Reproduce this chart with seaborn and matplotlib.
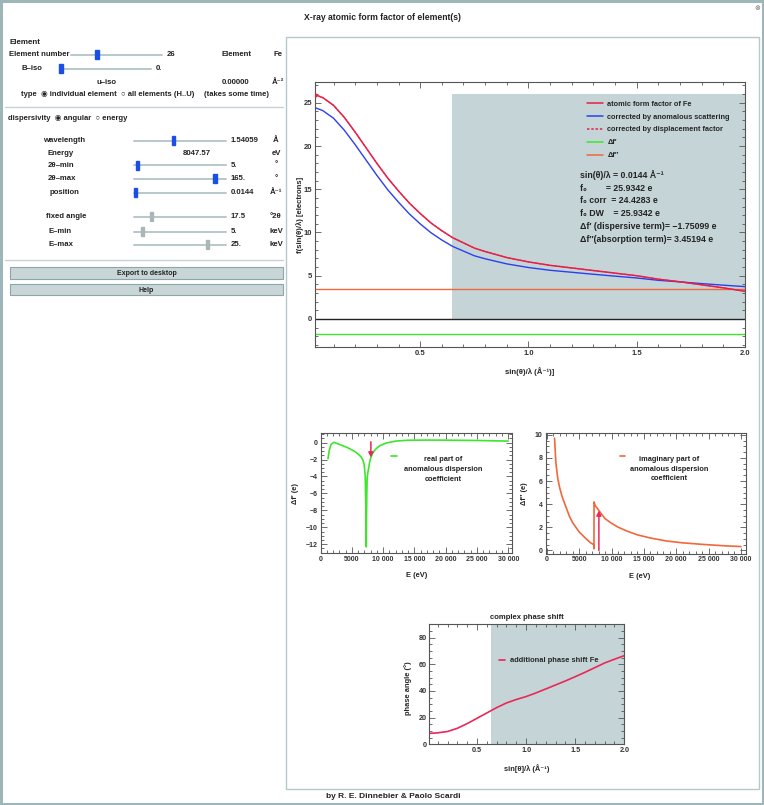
import matplotlib
matplotlib.use("Agg")
import matplotlib.pyplot as plt
from matplotlib.patches import Rectangle
from matplotlib.lines import Line2D
from matplotlib.ticker import MultipleLocator, FuncFormatter
import numpy as np
import pandas as pd
import seaborn as sns

# ---- values ----
# atomic form factor of Fe vs sin(theta)/lambda
s_ff = [0.0144, 0.05, 0.1, 0.15, 0.2, 0.25, 0.3, 0.35, 0.4, 0.45, 0.5, 0.55, 0.6, 0.65,
        0.7, 0.75, 0.8, 0.9, 1.0, 1.1, 1.2, 1.3, 1.4, 1.5, 1.6, 1.7, 1.8, 1.9, 2.0]
f0_fe = [25.93, 25.6, 24.7, 23.3, 21.6, 19.8, 18.0, 16.3, 14.8, 13.4, 12.2, 11.1, 10.2, 9.4,
         8.8, 8.2, 7.8, 7.1, 6.6, 6.2, 5.9, 5.6, 5.3, 5.0, 4.6, 4.3, 3.95, 3.6, 3.2]
f0_corr = [24.43, 24.10, 23.21, 21.82, 20.15, 18.38, 16.61, 14.95, 13.50, 12.15, 11.00, 9.97,
           9.13, 8.39, 7.85, 7.31, 6.96, 6.37, 5.95, 5.63, 5.40, 5.17, 4.95, 4.74, 4.47, 4.29,
           4.09, 3.91, 3.74]
f0_dw = [25.93, 25.6, 24.7, 23.3, 21.6, 19.8, 18.0, 16.3, 14.8, 13.4, 12.2, 11.1, 10.2, 9.4,
         8.8, 8.2, 7.8, 7.1, 6.6, 6.2, 5.9, 5.6, 5.3, 5.0, 4.6, 4.3, 3.95, 3.6, 3.2]
s_ends = [0.0144, 2.0]
df1_flat = [-1.751, -1.751]
df2_flat = [3.452, 3.452]
shade_from = 0.646

s_pos = 0.0144
f0_pos = 25.9342
energy = 8047.57
df1_pos = -1.75099
df2_pos = 3.45194

# real part of anomalous dispersion vs energy
E_real = [1200, 1400, 1700, 2100, 2300, 2800, 3500, 4200, 5000, 5600, 6000, 6500, 6800, 7000,
          7150, 7220, 7270, 7310, 7350, 7400, 7450, 7550, 7700, 7850, 8050, 8300, 8600, 9000,
          9500, 10500, 12000, 14000, 17000, 20000, 25000, 30000]
df1_E = [-1.9, -0.9, -0.2, 0.02, 0.0, -0.15, -0.35, -0.55, -0.85, -1.1, -1.35, -1.7, -2.1, -2.7,
         -4.0, -6.5, -9.5, -12.3, -9.0, -6.0, -4.3, -3.6, -3.0, -2.3, -1.75, -1.3, -0.95, -0.65,
         -0.35, -0.05, 0.18, 0.28, 0.3, 0.29, 0.25, 0.18]

# imaginary part of anomalous dispersion vs energy
E_imag = [1200, 1400, 1700, 2000, 2400, 3000, 3500, 4000, 5000, 6000, 6800, 7280, 7290, 7300,
          7500, 7800, 8047, 9000, 10000, 11000, 12500, 14000, 16000, 18500, 21000, 24000,
          27000, 30000]
df2_E = [9.7, 7.6, 6.2, 5.4, 4.6, 3.7, 2.95, 2.4, 1.6, 1.05, 0.65, 0.5, 0.15, 4.2,
         3.85, 3.65, 3.45, 2.75, 2.35, 2.02, 1.65, 1.35, 1.08, 0.82, 0.66, 0.53, 0.42, 0.34]

# complex phase shift
s_phase = [0.0144, 0.1, 0.2, 0.3, 0.4, 0.5, 0.6, 0.7, 0.8, 0.9, 1.0, 1.1, 1.2, 1.3, 1.4, 1.5,
           1.6, 1.7, 1.8, 1.9, 2.0]
phase_deg = [8.2, 8.6, 9.6, 12.0, 15.5, 19.5, 23.5, 27.5, 31.0, 33.6, 35.8, 38.5, 41.5, 44.5,
             47.5, 50.7, 54.0, 57.5, 61.0, 63.8, 66.5]

# ---- style ----
sns.set_theme(style="ticks")
plt.rcParams["font.family"] = ["Liberation Sans", "DejaVu Sans"]
plt.rcParams["font.weight"] = "bold"
plt.rcParams["axes.labelweight"] = "bold"
plt.rcParams["axes.unicode_minus"] = True

RED = "#e8203f"
BLUE = "#2a3ff0"
GREEN = "#3de62a"
ORANGE = "#f0683c"
CRIMSON = "#e8285a"
DASH = "#e0205a"
SHADE = "#c5d5d7"
FRAME = "#555555"
TXT = "#222222"

W, H = 764, 805


def rect(l, t, r, b):
    return [l / W, 1 - b / H, (r - l) / W, (b - t) / H]


def fx(x):
    return x / W


def fy(y):
    return 1 - y / H


fig = plt.figure(figsize=(W / 100, H / 100), dpi=100)


def txt(x, y, s, ha="left", size=5.6, color=TXT, **kw):
    fig.text(fx(x), fy(y), s, ha=ha, va="center", fontsize=size, fontweight="bold",
             color=color, **kw)


def hline(x0, x1, y, color="#c6d4d6", lw=1.0):
    fig.add_artist(Line2D([fx(x0), fx(x1)], [fy(y), fy(y)], transform=fig.transFigure,
                          color=color, lw=lw))


def slider(x0, x1, y, knob, color):
    hline(x0, x1, y, color="#b8c8ca", lw=1.4)
    fig.add_artist(Rectangle((fx(knob - 1.8), fy(y + 4.5)), 3.6 / W, 9 / H,
                             transform=fig.transFigure, color=color, zorder=5))


def frame_axes(ax, xmaj, xmin, ymaj, ymin, size=5.3):
    for sp in ax.spines.values():
        sp.set_visible(True)
        sp.set_color(FRAME)
        sp.set_linewidth(0.8)
    ax.xaxis.set_major_locator(MultipleLocator(xmaj))
    ax.xaxis.set_minor_locator(MultipleLocator(xmin))
    ax.yaxis.set_major_locator(MultipleLocator(ymaj))
    ax.yaxis.set_minor_locator(MultipleLocator(ymin))
    ax.tick_params(which="both", direction="in", top=True, right=True, color=FRAME,
                   width=0.6, labelsize=size, labelcolor="#333333", pad=2)
    ax.tick_params(which="major", length=4)
    ax.tick_params(which="minor", length=2)
    ax.set_facecolor("white")
    ax.grid(False)


# ---- window chrome ----
fig.add_artist(Rectangle((fx(1), fy(804)), 762 / W, 803 / H, transform=fig.transFigure,
                         fill=False, edgecolor="#9cb6ba", lw=2.2))
fig.add_artist(Rectangle((fx(286), fy(789)), 473 / W, 752 / H, transform=fig.transFigure,
                         fill=False, edgecolor="#b5c9cc", lw=1.0))
txt(382, 18, "X-ray atomic form factor of element(s)", ha="center", size=6.2)
txt(757, 8, "⊗", ha="center", size=5, color="#888888")
txt(326, 796, "by R. E. Dinnebier & Paolo Scardi", size=6.0)

# ---- left control panel ----
txt(9, 42.5, "Element", size=5.8)
txt(9, 55, "Element number", size=5.6)
slider(71, 162, 55, 96.7, "#1a4fe6")
txt(167, 55, "26")
txt(236, 55, "Element", ha="center")
txt(278, 55, "Fe", ha="center")
txt(21, 69, "B–iso")
slider(60, 151, 69, 61, "#1a4fe6")
txt(156, 69, "0.")
txt(106.7, 82.7, "u–iso", ha="center")
txt(236, 82.7, "0.00000", ha="center")
txt(278, 82, "Å⁻²", ha="center")
txt(21, 95, "type  ◉ individual element  ○ all elements (H..U)", size=5.5)
txt(236, 94.5, "(takes some time)", ha="center", size=5.5)
hline(5, 283, 106.7)
txt(8, 118, "dispersivity  ◉ angular  ○ energy", size=5.5)

rows = [
    (43.3, 140.7, "wavelength", "1.54059", "Å", 173.3, "#1a4fe6"),
    (47.7, 165.0, "2θ–min", "5.", "°", 137.7, "#1a4fe6"),
    (47.7, 178.5, "2θ–max", "165.", "°", 215.0, "#1a4fe6"),
    (49.3, 193.0, "position", "0.0144", "Å⁻¹", 135.7, "#1a4fe6"),
    (46.0, 217.0, "fixed angle", "17.5", "°2θ", 151.7, "#a9b7b9"),
    (48.3, 231.7, "E–min", "5.", "keV", 142.7, "#a9b7b9"),
    (48.3, 245.0, "E–max", "25.", "keV", 207.3, "#a9b7b9"),
]
for lx, y, lab, val, unit, knob, kc in rows:
    txt(lx, y, lab)
    slider(134, 226, y, knob, kc)
    txt(230.5, y, val)
    txt(276, y, unit, ha="center")
txt(47.7, 153.3, "Energy")
txt(196.7, 153.3, "8047.57", ha="center")
txt(276, 153.3, "eV", ha="center")
hline(5, 283, 259.5)

for top, bot, lab in [(267.5, 279.5, "Export to desktop"), (284.5, 295.5, "Help")]:
    fig.add_artist(Rectangle((fx(10), fy(bot)), 273 / W, (bot - top) / H,
                             transform=fig.transFigure, facecolor="#c9d6d8",
                             edgecolor="#8fa6a9", lw=0.8))
    txt(146.5, (top + bot) / 2, lab, ha="center", size=5.0)

# ---- main form factor plot ----
ax = fig.add_axes(rect(315, 82, 745, 347))
ax.fill_between([shade_from, 2.0], 0, 26, color=SHADE, lw=0, zorder=0)
ff = pd.DataFrame({"s": s_ff, "f0": f0_fe, "corr": f0_corr, "dw": f0_dw})
flat = pd.DataFrame({"s": s_ends, "d1": df1_flat, "d2": df2_flat})
ax.axhline(0, color="#222222", lw=1.0, zorder=1)
sns.lineplot(data=flat, x="s", y="d2", ax=ax, color=ORANGE, lw=1.0)
sns.lineplot(data=flat, x="s", y="d1", ax=ax, color=GREEN, lw=1.0)
sns.lineplot(data=ff, x="s", y="corr", ax=ax, color=BLUE, lw=1.0)
sns.lineplot(data=ff, x="s", y="f0", ax=ax, color=RED, lw=1.1)
sns.lineplot(data=ff, x="s", y="dw", ax=ax, color=DASH, lw=0.8, linestyle=(0, (2, 1.5)))
sns.scatterplot(x=[s_pos], y=[f0_pos], ax=ax, color=RED, s=9, linewidth=0, zorder=5)
ax.set_xlim(0.0144, 2.0)
ax.set_ylim(-3.24, 27.4)
frame_axes(ax, 0.5, 0.1, 5, 1, size=5.5)
ax.set_xlabel("sin(θ)/λ (Å⁻¹)]", fontsize=5.6)
ax.set_ylabel("f(sin(θ)/λ) [electrons]", fontsize=5.6)
ax.xaxis.set_label_coords(0.5, -0.075)
ax.yaxis.set_label_coords(-0.025, 0.5)

handles = [
    Line2D([], [], color=RED, lw=1.1),
    Line2D([], [], color=BLUE, lw=1.1),
    Line2D([], [], color=DASH, lw=1.1, linestyle=(0, (1.6, 1.2))),
    Line2D([], [], color=GREEN, lw=1.1),
    Line2D([], [], color=ORANGE, lw=1.1),
]
labels = ["atomic form factor of Fe", "corrected by anomalous scattering",
          "corrected by displacement factor", "Δf′", "Δf′′"]
ax.legend(handles, labels, loc="upper left", bbox_to_anchor=(0.632, 0.93), frameon=False,
          fontsize=5.3, handlelength=2.2, handletextpad=0.6, labelspacing=0.78,
          borderpad=0, borderaxespad=0)
info = [
    (16.6, "sin(θ)/λ = 0.0144 Å⁻¹"),
    (15.05, "f₀        = 25.9342 e"),
    (13.7, "f₀ corr  = 24.4283 e"),
    (12.25, "f₀ DW    = 25.9342 e"),
    (10.75, "Δf′ (dispersive term)= −1.75099 e"),
    (9.15, "Δf′′(absorption term)= 3.45194 e"),
]
for yv, s in info:
    ax.text(1.238, yv, s, fontsize=6.3, fontweight="bold", color=TXT, va="center")


def e_fmt(v, pos):
    v = int(round(v))
    if v >= 10000:
        return f"{v // 1000} {v % 1000:03d}"
    return str(v)


# ---- real part panel ----
ax1 = fig.add_axes(rect(320.5, 433.3, 512, 553.3))
sns.lineplot(x=E_real, y=df1_E, ax=ax1, color=GREEN, lw=1.2, estimator=None, sort=False)
ax1.annotate("", xy=(energy, df1_pos), xytext=(energy, 0.1),
             arrowprops=dict(arrowstyle="-|>", color=CRIMSON, lw=1.1,
                             mutation_scale=7, shrinkA=0, shrinkB=0))
ax1.set_xlim(0, 30600)
ax1.set_ylim(-13.07, 1.1)
frame_axes(ax1, 5000, 1000, 2, 0.5, size=5.0)
ax1.xaxis.set_major_formatter(FuncFormatter(e_fmt))
ax1.set_xlabel("E (eV)", fontsize=5.4)
ax1.set_ylabel("Δf′ (e)", fontsize=5.4)
ax1.xaxis.set_label_coords(0.5, -0.155)
ax1.yaxis.set_label_coords(-0.11, 0.5)
ax1.legend([Line2D([], [], color=GREEN, lw=1.2)], [""], loc="center left",
           bbox_to_anchor=(0.37, 0.8), frameon=False, handlelength=0.8,
           borderpad=0, borderaxespad=0, fontsize=5.3)
ax1.text(0.64, 0.70, "real part of\nanomalous dispersion\ncoefficient", transform=ax1.transAxes,
         ha="center", va="center", fontsize=5.3, fontweight="bold", color=TXT, linespacing=1.55)

# ---- imaginary part panel ----
ax2 = fig.add_axes(rect(545.5, 433, 745.5, 553.5))
sns.lineplot(x=E_imag, y=df2_E, ax=ax2, color=ORANGE, lw=1.2, estimator=None, sort=False)
ax2.annotate("", xy=(energy, df2_pos), xytext=(energy, 0.0),
             arrowprops=dict(arrowstyle="-|>", color=CRIMSON, lw=1.1,
                             mutation_scale=7, shrinkA=0, shrinkB=0))
ax2.set_xlim(-200, 30700)
ax2.set_ylim(-0.26, 10.15)
frame_axes(ax2, 5000, 1000, 2, 0.5, size=5.0)
ax2.xaxis.set_major_formatter(FuncFormatter(e_fmt))
ax2.set_xlabel("E (eV)", fontsize=5.4)
ax2.set_ylabel("Δf′′ (e)", fontsize=5.4)
ax2.xaxis.set_label_coords(0.47, -0.16)
ax2.yaxis.set_label_coords(-0.085, 0.5)
ax2.legend([Line2D([], [], color=ORANGE, lw=1.2)], [""], loc="center left",
           bbox_to_anchor=(0.37, 0.8), frameon=False, handlelength=0.8,
           borderpad=0, borderaxespad=0, fontsize=5.3)
ax2.text(0.62, 0.70, "imaginary part of\nanomalous dispersion\ncoefficient",
         transform=ax2.transAxes, ha="center", va="center", fontsize=5.3,
         fontweight="bold", color=TXT, linespacing=1.55)

# ---- phase shift panel ----
ax3 = fig.add_axes(rect(429.3, 624.3, 624.3, 744.3))
ax3.axvspan(shade_from, 2.0, color=SHADE, lw=0, zorder=0)
sns.lineplot(x=s_phase, y=phase_deg, ax=ax3, color=CRIMSON, lw=1.2,
             label="additional phase shift Fe")
ax3.set_xlim(0.0144, 2.0)
ax3.set_ylim(0, 90)
frame_axes(ax3, 0.5, 0.1, 20, 5, size=5.2)
ax3.set_xlabel("sin[θ]/λ (Å⁻¹)", fontsize=5.4)
ax3.set_ylabel("phase angle (°)", fontsize=5.4)
ax3.xaxis.set_label_coords(0.5, -0.165)
ax3.yaxis.set_label_coords(-0.09, 0.47)
ax3.set_title("complex phase shift", fontsize=5.5, fontweight="bold", color=TXT, pad=4)
ax3.legend(loc="center left", bbox_to_anchor=(0.355, 0.697), frameon=False, fontsize=5.4,
           handlelength=0.9, handletextpad=0.6, borderpad=0, borderaxespad=0)

fig.savefig("out.png", dpi=100, facecolor="white")
